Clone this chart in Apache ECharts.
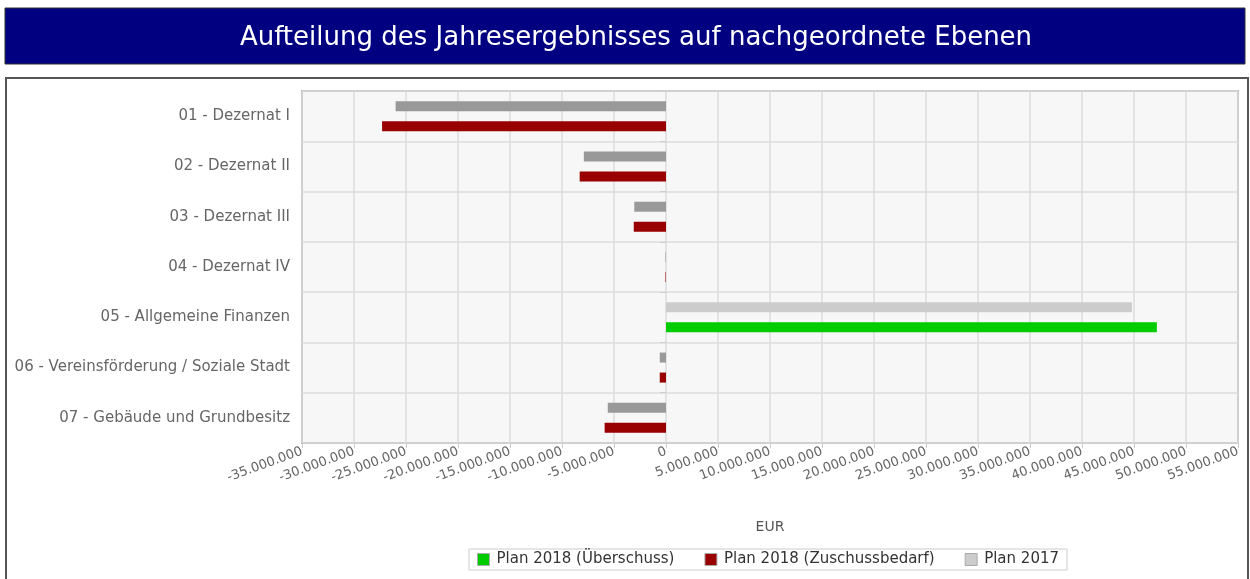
<!DOCTYPE html>
<html>
<head>
<meta charset="utf-8">
<script src="https://cdn.jsdelivr.net/npm/echarts@6/dist/echarts.min.js"></script>
<style>
  html, body { margin: 0; padding: 0; background: #fff; }
  #chart { width: 1250px; height: 579px; }
</style>
</head>
<body>
<div id="chart"></div>
<script>
const categories = [
  '01 - Dezernat I',
  '02 - Dezernat II',
  '03 - Dezernat III',
  '04 - Dezernat IV',
  '05 - Allgemeine Finanzen',
  '06 - Vereinsförderung / Soziale Stadt',
  '07 - Gebäude und Grundbesitz'
];
const plan2018Ueberschuss = [0, 0, 0, 0, 47200000, 0, 0];
const plan2018Zuschuss = [-27300000, -8300000, -3100000, -50000, 0, -600000, -5900000];
const plan2017 = [-26000000, -7900000, -3050000, -50000, 44800000, -600000, -5600000];

const seriesNames = ['Plan 2018 (Überschuss)', 'Plan 2018 (Zuschussbedarf)', 'Plan 2017'];

function fmtEur(v) {
  const s = Math.abs(v).toFixed(0).replace(/\B(?=(\d{3})+(?!\d))/g, '.');
  return (v < 0 ? '-' : '') + s;
}

const myChart = echarts.init(document.getElementById('chart'));

const option = {
  animation: false,
  textStyle: { fontFamily: 'DejaVu Sans' },
  graphic: [
    {
      type: 'rect',
      shape: { x: 5, y: 8, width: 1240, height: 56 },
      style: { fill: '#000080', stroke: '#333', lineWidth: 1 },
      z: -10
    },
    {
      type: 'rect',
      shape: { x: 6, y: 78, width: 1242, height: 520 },
      style: { fill: '#fff', stroke: '#555', lineWidth: 2 },
      z: -10
    }
  ],
  title: {
    text: 'Aufteilung des Jahresergebnisses auf nachgeordnete Ebenen',
    left: 631,
    top: 20,
    textAlign: 'center',
    textStyle: { color: '#fff', fontSize: 26, fontWeight: 'normal', fontFamily: 'DejaVu Sans' }
  },
  legend: {
    data: seriesNames,
    left: 469,
    top: 549,
    icon: 'rect',
    itemWidth: 12,
    itemHeight: 12,
    itemGap: 30,
    padding: [3, 8],
    borderColor: '#ccc',
    borderWidth: 1,
    backgroundColor: '#fff',
    itemStyle: { borderColor: '#aaa', borderWidth: 1 },
    textStyle: { color: '#333', fontSize: 15, padding: [0, 0, 0, 2] }
  },
  grid: {
    left: 302,
    right: 12,
    top: 91,
    bottom: 136,
    show: true,
    backgroundColor: '#f7f7f7',
    borderColor: '#aaa',
    borderWidth: 2,
    containLabel: false
  },
  xAxis: {
    type: 'value',
    min: -35000000,
    max: 55000000,
    interval: 5000000,
    name: 'EUR',
    nameLocation: 'middle',
    nameGap: 77,
    nameTextStyle: { color: '#555', fontSize: 14 },
    axisLine: { show: false },
    axisTick: { show: true, length: 5, lineStyle: { color: '#ccc' } },
    splitLine: { show: true, lineStyle: { color: '#ddd', width: 1.5 } },
    axisLabel: {
      rotate: 20,
      color: '#666',
      fontSize: 13,
      margin: 8,
      formatter: fmtEur
    }
  },
  yAxis: {
    type: 'category',
    data: categories,
    inverse: true,
    axisLine: { show: false },
    axisTick: { show: true, length: 6, lineStyle: { color: '#ccc' } },
    splitLine: { show: true, lineStyle: { color: '#ddd', width: 1.5 } },
    axisLabel: { color: '#666', fontSize: 15, margin: 12 }
  },
  series: [
    {
      name: seriesNames[2],
      type: 'bar',
      barWidth: 10,
      barGap: '100%',
      itemStyle: { color: '#cccccc' },
      data: plan2017.map(v => ({ value: v, itemStyle: { color: v < 0 ? '#999999' : '#cccccc' } }))
    },
    {
      name: seriesNames[0],
      type: 'bar',
      stack: 'plan2018',
      barWidth: 10,
      itemStyle: { color: '#00cc00' },
      data: plan2018Ueberschuss
    },
    {
      name: seriesNames[1],
      type: 'bar',
      stack: 'plan2018',
      barWidth: 10,
      itemStyle: { color: '#990000' },
      data: plan2018Zuschuss
    }
  ]
};

myChart.setOption(option);
window.addEventListener('resize', () => {
  myChart.resize();
});
</script>
</body>
</html>
